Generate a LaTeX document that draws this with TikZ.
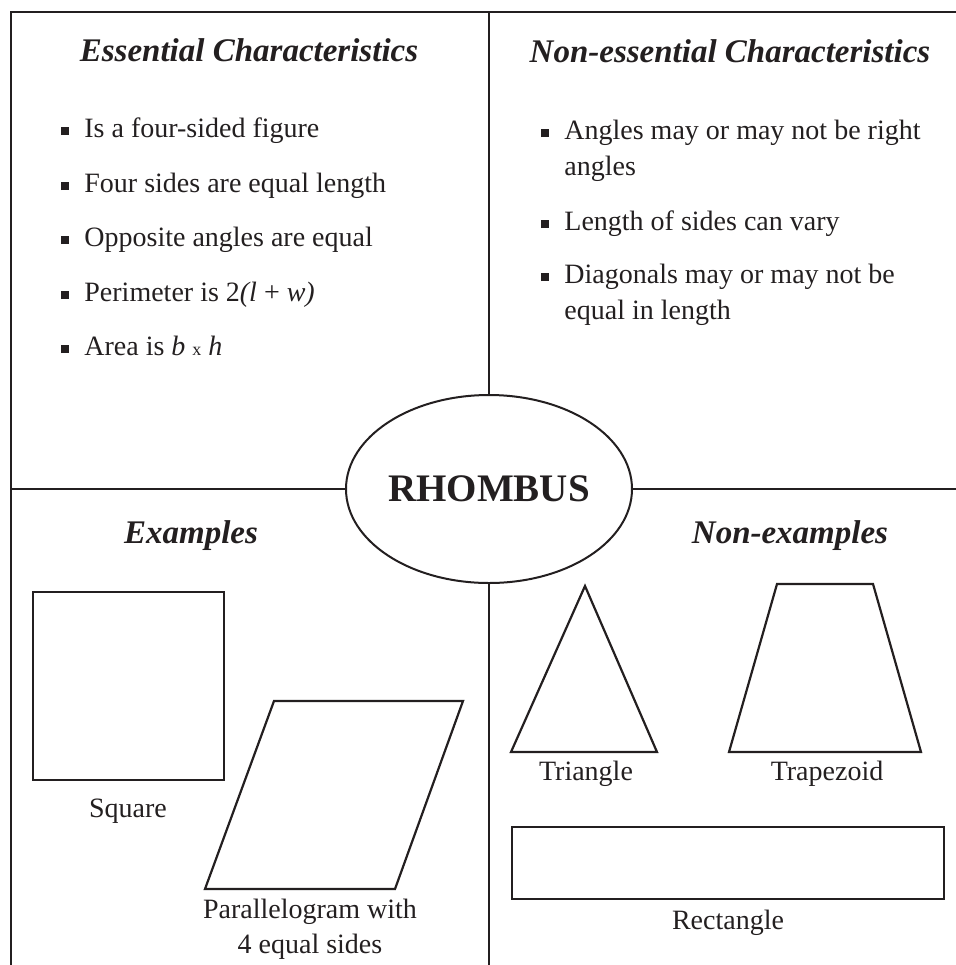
\documentclass[tikz,border=0pt]{standalone}
\usepackage{fontspec}
\setmainfont{Liberation Serif}
\usetikzlibrary{shapes.geometric,positioning}
\definecolor{ink}{RGB}{35,31,32}
\newcommand{\sqbul}{\makebox[0pt][r]{\rule[1pt]{4pt}{4pt}\hspace{7.5pt}}}
\tikzset{
    quad line/.style={line width=1.3pt, draw=ink},
    shape line/.style={line width=1.1pt, draw=ink, line join=miter},
    heading/.style={anchor=base, inner sep=0pt, text=ink,
        font=\fontsize{16.5}{20}\selectfont\bfseries\itshape},
    item/.style={anchor=base west, align=left, inner sep=0pt, text=ink,
        font=\fontsize{14}{18}\selectfont},
    caption/.style={anchor=base, align=center, inner sep=0pt, text=ink,
        font=\fontsize{14}{17.5}\selectfont},
    topic/.style={ellipse, draw=ink, line width=1pt, text=ink,
        minimum width=143pt, minimum height=94pt, inner sep=0pt,
        font=\fontsize{19.5}{22}\selectfont\bfseries}
}

\begin{document}
\begin{tikzpicture}[x=0.5pt, y=-0.5pt]
\useasboundingbox (0,0) rectangle (956,965);
% frame and quadrants
\coordinate (tl) at (11,12);
\coordinate (tr) at (956,12);
\coordinate (bl) at (11,965);
\coordinate (ml) at (11,489);
\coordinate (mr) at (956,489);
\coordinate (mt) at (489,12);
\coordinate (mb) at (489,965);
\node[topic] (rhombus) at (489,489) {RHOMBUS};
\draw[quad line] (bl) -- (tl) -- (tr);
\draw[quad line] (mt) -- (rhombus.north);
\draw[quad line] (rhombus.south) -- (mb);
\draw[quad line] (ml) -- (rhombus.west);
\draw[quad line] (rhombus.east) -- (mr);

% headings
\node[heading] (ess) at (249,61) {Essential Characteristics};
\node[heading] (noness) at (730,62) {Non-essential Characteristics};
\node[heading] (ex) at (191,543) {Examples};
\node[heading] (nonex) at (790,543) {Non-examples};

% essential
\node[item] (ess1) at (84,137) {\sqbul Is a four-sided figure};
\node[item] (ess2) at (84,192) {\sqbul Four sides are equal length};
\node[item] (ess3) at (84,246) {\sqbul Opposite angles are equal};
\node[item] (ess4) at (84,301) {\sqbul Perimeter is 2\textit{(l} + \textit{w)}};
\node[item] (ess5) at (84,355) {\sqbul Area is \textit{b} {\fontsize{9}{9}\selectfont x} \textit{h}};

% non-essential (base = last line)
\node[item] (noness1) at (564,175) {\sqbul Angles may or may not be right\\angles};
\node[item] (noness2) at (564,230) {\sqbul Length of sides can vary};
\node[item] (noness3) at (564,319) {\sqbul Diagonals may or may not be\\equal in length};

% examples
\draw[shape line] (33,592) rectangle (224,780);
\node[caption] (sq) at (128,817) {Square};
\draw[shape line] (274,701) -- (463,701) -- (395,889) -- (205,889) -- cycle;
\node[caption] (para) at (310,953) {Parallelogram with\\4 equal sides};

% non-examples
\draw[shape line] (585,586) -- (657,752) -- (511,752) -- cycle;
\node[caption] (tri) at (586,780) {Triangle};
\draw[shape line] (777,584) -- (873,584) -- (921,752) -- (729,752) -- cycle;
\node[caption] (trap) at (827,780) {Trapezoid};
\draw[shape line] (512,827) rectangle (944,899);
\node[caption] (rect) at (728,929) {Rectangle};
\end{tikzpicture}
\end{document}
